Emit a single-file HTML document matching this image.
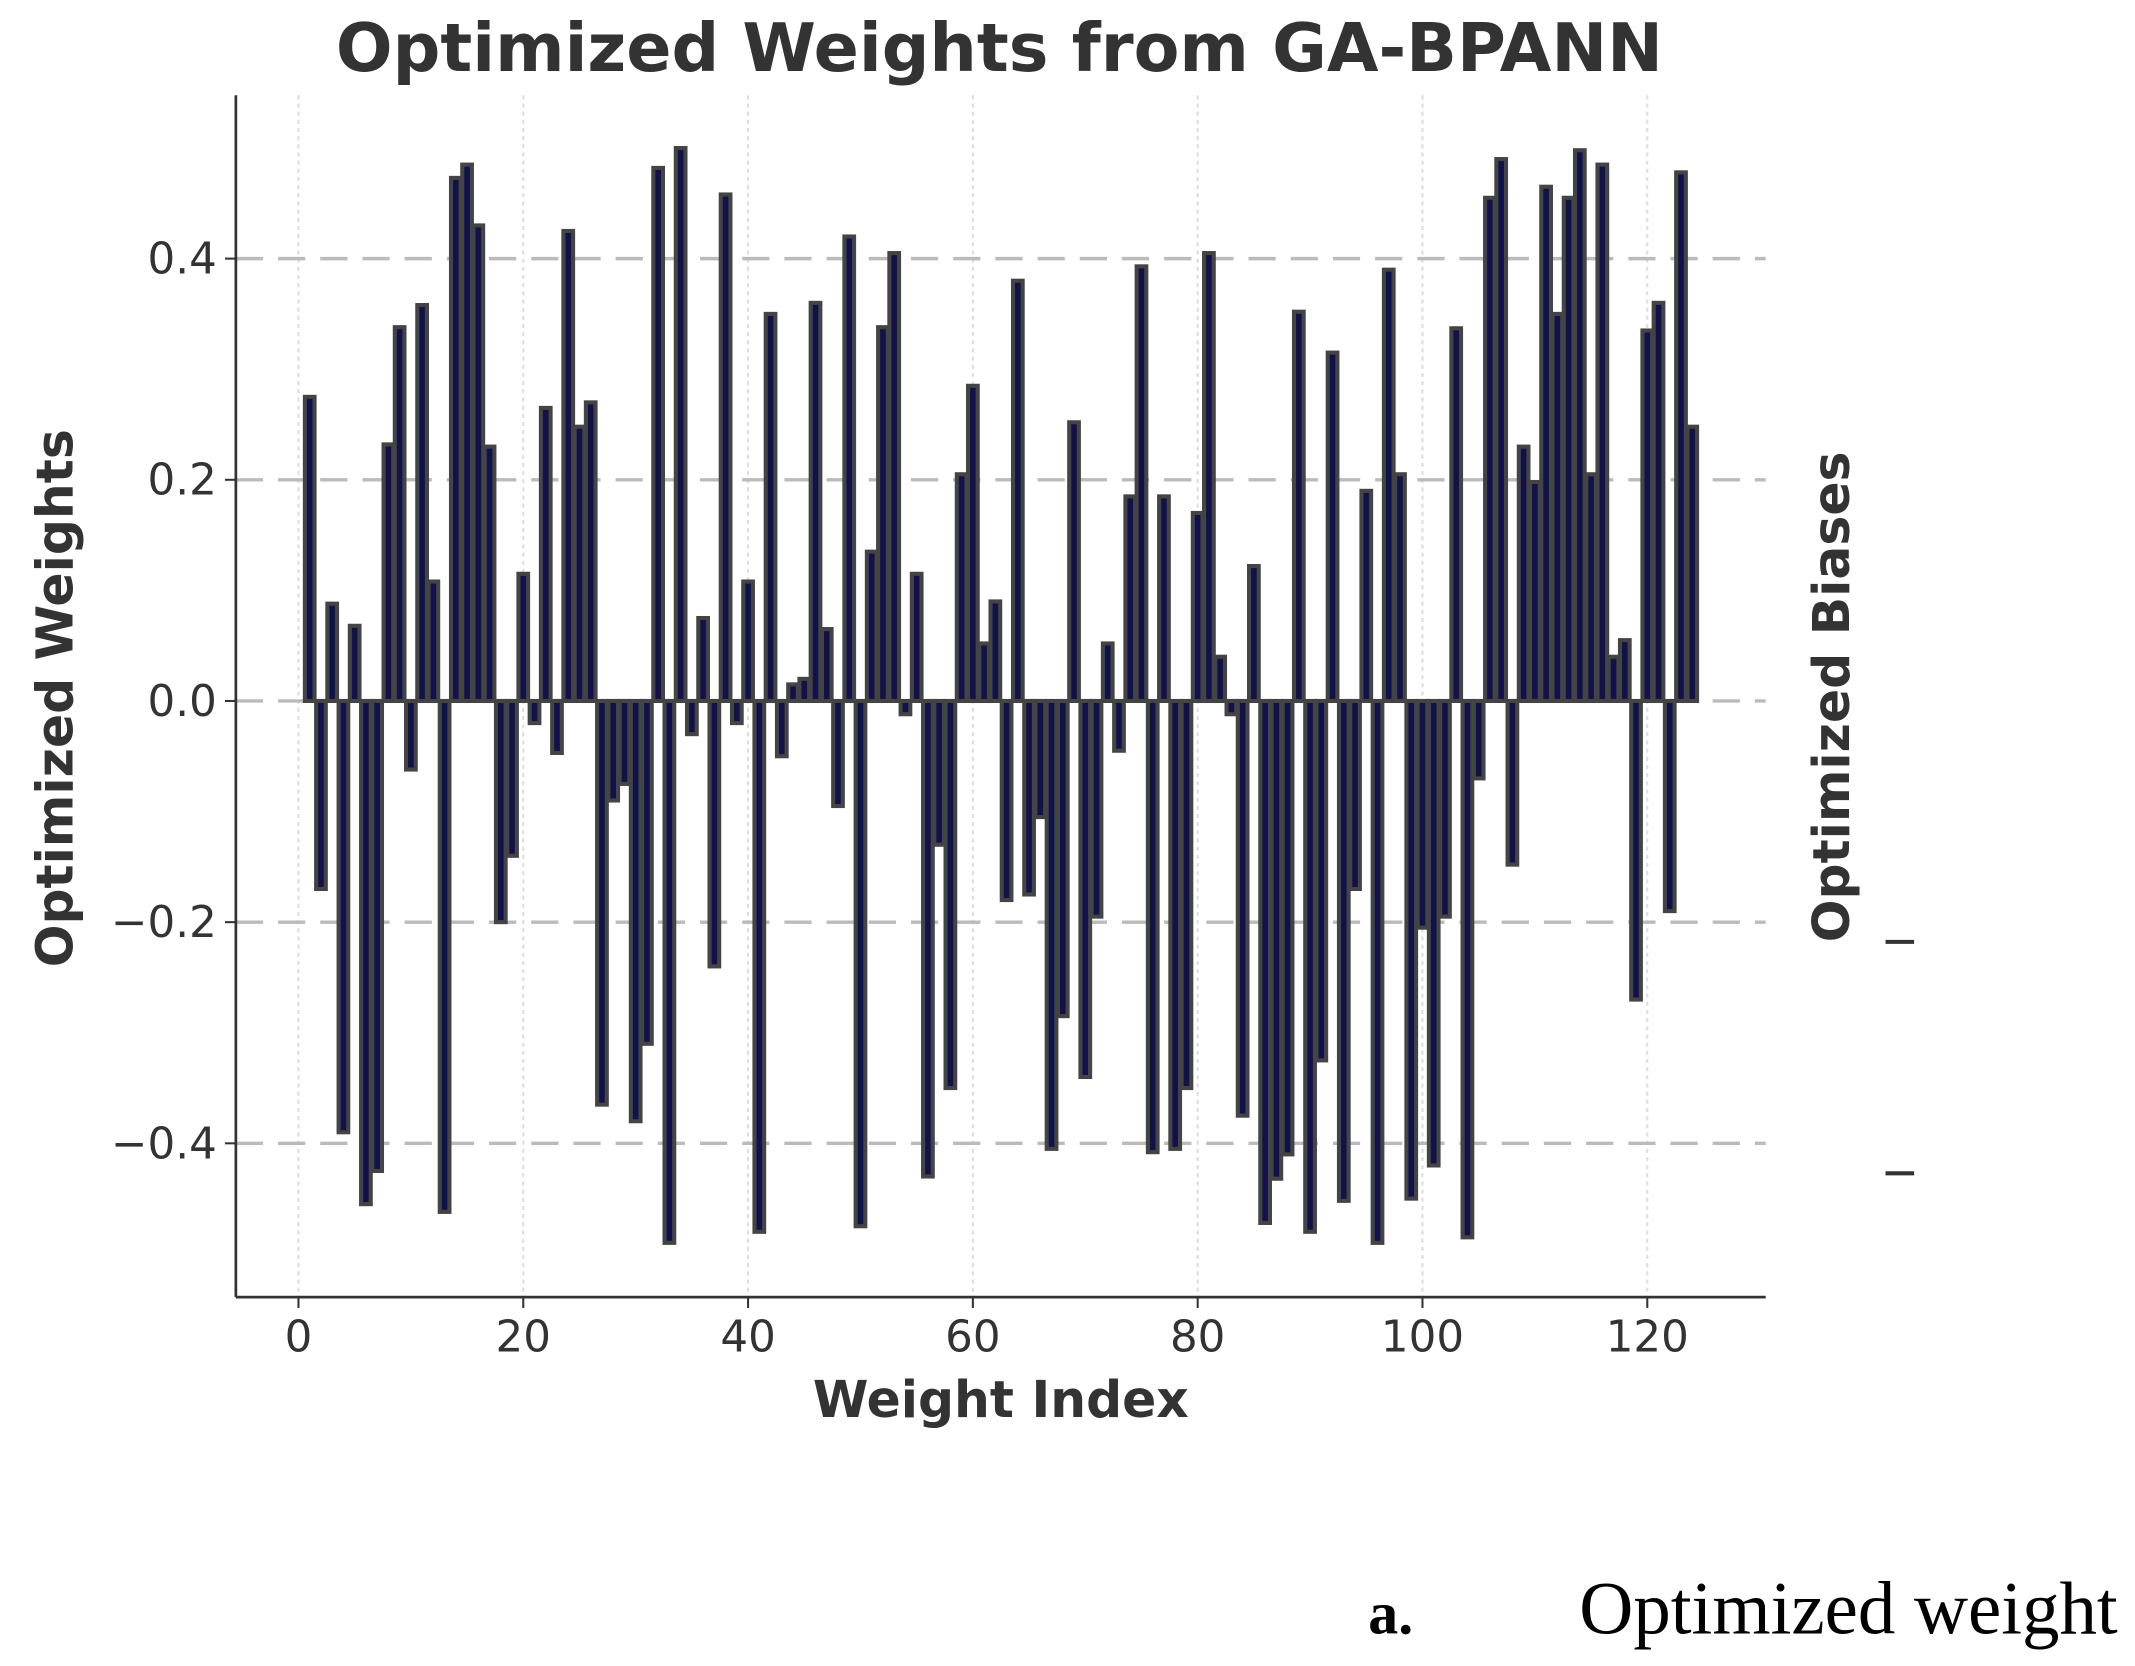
<!DOCTYPE html>
<html><head><meta charset="utf-8"><style>
html,body{margin:0;padding:0;background:#fff;}
svg{display:block;}
</style></head><body>
<svg id="chart" width="2135" height="1666" viewBox="0 0 1568 1224" xmlns="http://www.w3.org/2000/svg">
<rect width="1568" height="1224" fill="#fff"/>
<text x="734" y="52" text-anchor="middle" font-family="DejaVu Sans, sans-serif" font-weight="bold" font-size="49" fill="#333">Optimized Weights from GA-BPANN</text>
<g id="grid"></g>
<g id="bars"></g>
<g id="axes"></g>
<text x="735" y="1041" text-anchor="middle" font-family="DejaVu Sans, sans-serif" font-weight="bold" font-size="37" fill="#333">Weight Index</text>
<text transform="translate(53,513) rotate(-90)" text-anchor="middle" font-family="DejaVu Sans, sans-serif" font-weight="bold" font-size="37" fill="#333">Optimized Weights</text>
<text transform="translate(1358,512) rotate(-90)" text-anchor="middle" font-family="DejaVu Sans, sans-serif" font-weight="bold" font-size="37" fill="#333">Optimized Biases</text>
<line x1="1385" y1="692" x2="1406" y2="692" stroke="#333" stroke-width="3"/>
<line x1="1385" y1="862" x2="1406" y2="862" stroke="#333" stroke-width="3"/>
<text x="1005" y="1200" font-family="Liberation Serif, serif" font-weight="bold" font-size="44" fill="#000">a.</text>
<text x="1160" y="1200" font-family="Liberation Serif, serif" font-size="55" fill="#000">Optimized weight</text>
</svg>
<script>
const weightIndices = Array.from({length:124},(_,i)=>i+1);
const weightValues = [0.275,-0.17,0.088,-0.39,0.068,-0.455,-0.425,0.232,0.338,-0.062,0.358,0.108,-0.462,0.473,0.485,0.43,0.23,-0.2,-0.14,0.115,-0.02,0.265,-0.047,0.425,0.248,0.27,-0.365,-0.09,-0.075,-0.38,-0.31,0.482,-0.49,0.5,-0.03,0.075,-0.24,0.458,-0.02,0.108,-0.48,0.35,-0.05,0.015,0.02,0.36,0.065,-0.095,0.42,-0.475,0.135,0.338,0.405,-0.012,0.115,-0.43,-0.13,-0.35,0.205,0.285,0.052,0.09,-0.18,0.38,-0.175,-0.105,-0.405,-0.285,0.252,-0.34,-0.195,0.052,-0.045,0.185,0.393,-0.408,0.185,-0.405,-0.35,0.17,0.405,0.04,-0.012,-0.375,0.122,-0.472,-0.432,-0.41,0.352,-0.48,-0.325,0.315,-0.452,-0.17,0.19,-0.49,0.39,0.205,-0.45,-0.205,-0.42,-0.195,0.337,-0.485,-0.07,0.455,0.49,-0.148,0.23,0.198,0.465,0.35,0.455,0.498,0.205,0.485,0.04,0.055,-0.27,0.335,0.36,-0.19,0.478,0.248];
const xTicks = [0,20,40,60,80,100,120];
const yTicks = [-0.4,-0.2,0.0,0.2,0.4];
const yTickLabels = ["\u22120.4","\u22120.2","0.0","0.2","0.4"];

const NS="http://www.w3.org/2000/svg";
const L=173,R=1297,T=70,B=953;
const xS=v=>219+(v)*8.258;
const yS=v=>515-v*812.5;
function mk(tag,attrs,parent){const e=document.createElementNS(NS,tag);for(const k in attrs)e.setAttribute(k,attrs[k]);parent.appendChild(e);return e;}
const grid=document.getElementById('grid'),bars=document.getElementById('bars'),axes=document.getElementById('axes');
xTicks.forEach(t=>{
  const g=mk('line',{x1:xS(t),x2:xS(t),y1:T,y2:B,stroke:'#ddd','stroke-width':1.5,'stroke-dasharray':'3,3'},grid);
  
  
  const tk=mk('line',{x1:xS(t),x2:xS(t),y1:B,y2:B+8,stroke:'#333','stroke-width':1.5},axes);
  
  
  const lb=mk('text',{x:xS(t),y:B+40,'text-anchor':'middle','font-family':'DejaVu Sans, sans-serif','font-size':32,fill:'#333'},axes);
  lb.textContent=t;
  
  
});
yTicks.forEach((t,i)=>{
  const g=mk('line',{x1:L,x2:R,y1:yS(t),y2:yS(t),stroke:'#bbb','stroke-width':2.5,'stroke-dasharray':'20,11'},grid);
  
  
  const tk=mk('line',{x1:L-8,x2:L,y1:yS(t),y2:yS(t),stroke:'#333','stroke-width':1.5},axes);
  
  
  const lb=mk('text',{x:L-14,y:yS(t)+11,'text-anchor':'end','font-family':'DejaVu Sans, sans-serif','font-size':32,fill:'#333'},axes);
  lb.textContent=yTickLabels[i];
  
  
});
weightValues.forEach((v,i)=>{
  const x=xS(weightIndices[i]);const w=0.86*8.258;
  const y0=yS(Math.max(v,0)),y1=yS(Math.min(v,0));
  const r=mk('rect',{x:x-w/2,y:y0,width:w,height:Math.max(y1-y0,1),fill:'#12124a',stroke:'#444','stroke-width':3},bars);
  
  
});
const ls=mk('line',{x1:L,x2:L,y1:T,y2:B,stroke:'#333','stroke-width':2},axes);


const bs=mk('line',{x1:L,x2:R,y1:B,y2:B,stroke:'#333','stroke-width':2},axes);


</script>
</body></html>
